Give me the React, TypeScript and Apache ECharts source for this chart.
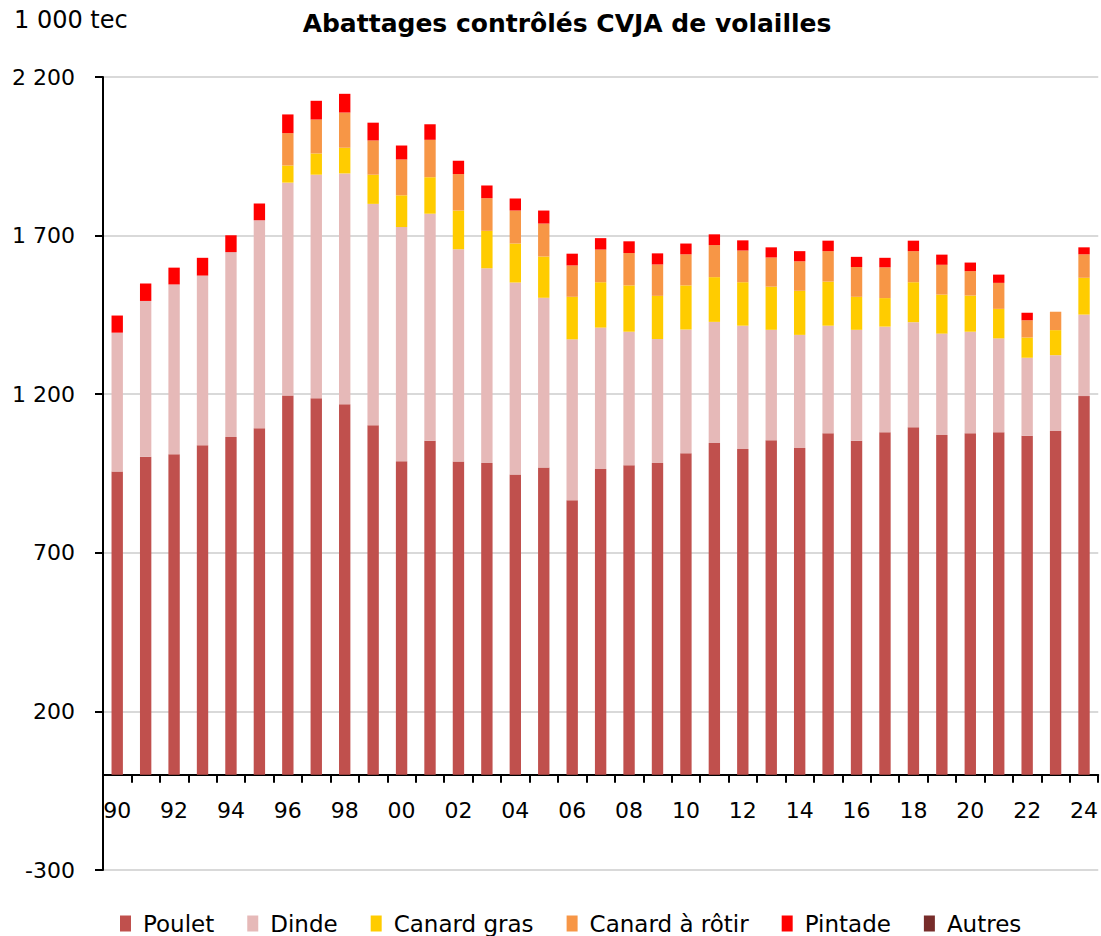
import React, { useEffect, useRef } from "react";
import * as echarts from "echarts";

const years = [
  "1990","1991","1992","1993","1994","1995","1996","1997","1998","1999",
  "2000","2001","2002","2003","2004","2005","2006","2007","2008","2009",
  "2010","2011","2012","2013","2014","2015","2016","2017","2018","2019",
  "2020","2021","2022","2023","2024",
];

const poulet = [956,1003,1011,1039,1065,1093,1196,1187,1168,1102,989,1053,988,983,947,969,866,964,976,983,1014,1046,1027,1055,1030,1077,1053,1080,1096,1071,1077,1080,1069,1084,1194];
const dinde = [438,491,535,535,583,655,671,705,728,698,738,716,669,614,605,535,507,446,421,391,390,382,389,348,357,339,350,333,331,320,320,296,246,239,257];
const canardGras = [0,0,0,0,0,0,54,67,81,92,100,115,122,118,123,130,134,143,146,136,139,141,137,136,139,139,104,90,126,123,114,93,64,79,116];
const canardRotir = [0,0,0,0,0,0,102,107,111,108,113,118,115,103,104,104,99,103,102,99,98,101,100,92,93,96,94,97,98,94,77,82,54,58,74];
const pintade = [54,55,53,56,53,53,59,59,59,56,44,49,42,40,38,41,37,36,37,35,34,34,32,32,32,33,32,30,33,32,27,26,24,0,22];
const autres = [0,0,0,0,0,0,0,0,0,0,0,0,0,0,0,0,0,0,0,0,0,0,0,0,0,0,0,0,0,0,0,0,0,0,0];

const seriesNames = ["Poulet", "Dinde", "Canard gras", "Canard à rôtir", "Pintade", "Autres"];
const seriesData = [poulet, dinde, canardGras, canardRotir, pintade, autres];
const seriesColors = ["#C0504D", "#E6B9B8", "#FFCC00", "#F79646", "#FF0000", "#772C2A"];

const yMin = -300;
const yMax = 2200;
const yStep = 500;

const FONT = "DejaVu Sans";

function fmtThousands(v: number): string {
  const s = String(Math.abs(v));
  const parts = s.replace(/\B(?=(\d{3})+(?!\d))/g, " ");
  return (v < 0 ? "-" : "") + parts;
}

export default function App() {
  const ref = useRef<HTMLDivElement>(null);
  useEffect(() => {
    if (!ref.current) return;
    const chart = echarts.init(ref.current, null, { renderer: "svg" });
    const gridTop = 77;
    const gridBottom = 66;
    const plotH = 936 - gridTop - gridBottom;
    const zeroOffset = -((0 - yMin) / (yMax - yMin)) * plotH;
    chart.setOption({
      animation: false,
      backgroundColor: "#ffffff",
      textStyle: { fontFamily: FONT },
      title: [
        {
          text: "Abattages contrôlés CVJA de volailles",
          left: 562,
          textAlign: "center",
          top: 6,
          textStyle: { fontFamily: FONT, fontSize: 25, fontWeight: "bold", color: "#000" },
        },
        {
          text: "1 000 tec",
          left: 9,
          top: 3,
          textStyle: { fontFamily: FONT, fontSize: 24, fontWeight: "normal", color: "#000" },
        },
      ],
      legend: {
        top: 912,
        left: 120,
        padding: 0,
        itemWidth: 11,
        itemHeight: 16,
        itemGap: 33,
        icon: "rect",
        textStyle: { fontFamily: FONT, fontSize: 23, color: "#000", padding: [0, 0, 0, 7] },
        data: seriesNames,
      },
      grid: { left: 103, right: 1, top: gridTop, bottom: gridBottom, containLabel: false },
      xAxis: {
        type: "category",
        data: years,
        boundaryGap: true,
        offset: zeroOffset,
        axisLine: { onZero: false, lineStyle: { color: "#000", width: 2 } },
        axisTick: { show: true, interval: 0, length: 8, lineStyle: { color: "#000", width: 2 } },
        axisLabel: {
          interval: 1,
          fontFamily: FONT,
          fontSize: 22,
          color: "#000",
          margin: 25,
          formatter: (v: string) => v.slice(2),
        },
      },
      yAxis: {
        type: "value",
        min: yMin,
        max: yMax,
        interval: yStep,
        axisLine: { show: true, lineStyle: { color: "#000", width: 2 } },
        axisTick: { show: true, length: 8, lineStyle: { color: "#000", width: 2 } },
        axisLabel: {
          fontFamily: FONT,
          fontSize: 22,
          color: "#000",
          margin: 28,
          formatter: (v: number) => fmtThousands(v),
        },
        splitLine: { show: true, lineStyle: { color: "#D9D9D9", width: 2 } },
      },
      series: seriesNames.map((name, i) => ({
        name,
        type: "bar",
        stack: "total",
        data: seriesData[i],
        barWidth: "40%",
        itemStyle: { color: seriesColors[i] },
      })),
    });
    return () => chart.dispose();
  }, []);
  return (
    <div
      ref={ref}
      style={{ position: "fixed", left: 0, top: 0, width: 1101, height: 936 }}
    />
  );
}
